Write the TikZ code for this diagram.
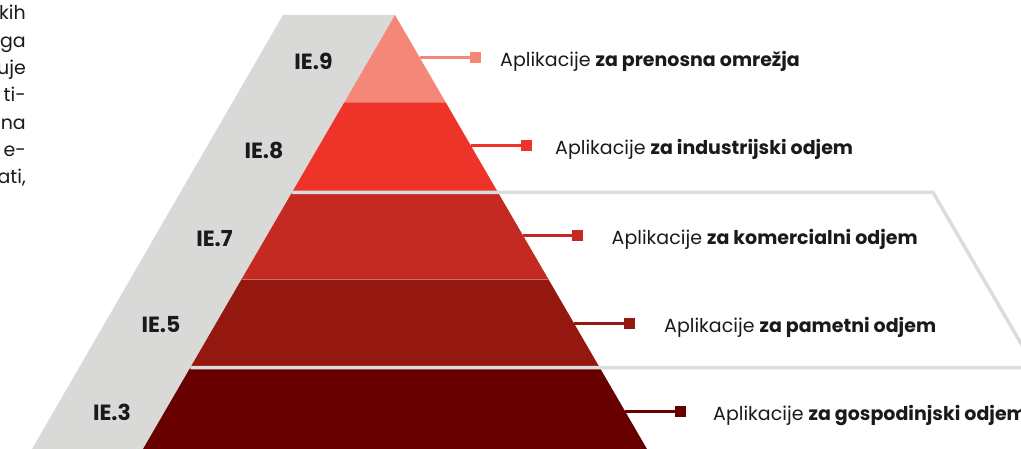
\documentclass[tikz,border=0pt]{standalone}
\usepackage{fontspec}
\setmainfont{Poppins}
\definecolor{c9}{HTML}{F48778}
\definecolor{c8}{HTML}{EE3329}
\definecolor{c7}{HTML}{C42A22}
\definecolor{c5}{HTML}{951810}
\definecolor{c3}{HTML}{690000}
\definecolor{bandgray}{HTML}{D9D9D7}
\definecolor{linegray}{HTML}{DCDCDC}
\definecolor{ink}{HTML}{1A1A1A}
\tikzset{
  conn/.style={line width=3pt},
  sq/.style={minimum size=11pt, inner sep=0pt, outer sep=0pt},
  lab/.style={font=\fontsize{19}{22}\selectfont, anchor=base west, inner sep=0pt, text=ink},
  ie/.style={font=\bfseries\fontsize{22}{24}\selectfont, inner sep=0pt, text=ink},
  leftt/.style={font=\fontsize{19}{22}\selectfont, anchor=base east, inner sep=0pt, text=ink},
  outl/.style={draw=linegray, line width=3.5pt}
}
\begin{document}
\begin{tikzpicture}[x=1pt,y=-1pt]
\useasboundingbox (0,0) rectangle (1021,449);
% left paragraph fragments
\node[leftt] (p1) at (26,20) {kih};
\node[leftt] (p2) at (26,47.3) {ga};
\node[leftt] (p3) at (26,74.7) {uje};
\node[leftt] (p4) at (26,102) {ti-};
\node[leftt] (p5) at (26,129.3) {na};
\node[leftt] (p6) at (26,156.7) {e-};
\node[leftt] (p7) at (26,184) {ati,};
% gray band
\fill[bandgray] (283,15) -- (395,15) -- (143,449) -- (32,449) -- cycle;
% pyramid bands
\fill[c9] (395,15) -- (445.8,102.5) -- (344.2,102.5) -- cycle;
\fill[c8] (344.2,102.5) -- (445.8,102.5) -- (498.06,192.5) -- (291.94,192.5) -- cycle;
\fill[c7] (291.94,192.5) -- (498.06,192.5) -- (548.3,279) -- (241.7,279) -- cycle;
\fill[c5] (241.7,279) -- (548.3,279) -- (599.66,367.5) -- (190.34,367.5) -- cycle;
\fill[c3] (190.34,367.5) -- (599.66,367.5) -- (647,449) -- (143,449) -- cycle;
\draw[line width=0.7pt, draw=c7!70!white] (241.7,279) -- (548.3,279);
% gray outline
\draw[outl] (291.94,192.5) -- (933,192.5) -- (1035,367.5) -- (190.34,367.5);
% IE labels
\node[ie] (ie9) at (313.5,61) {IE.9};
\node[ie] (ie8) at (264,150) {IE.8};
\node[ie] (ie7) at (214.5,238.5) {IE.7};
\node[ie] (ie5) at (161,325) {IE.5};
\node[ie] (ie3) at (112,412) {IE.3};
% connectors
\coordinate (e9) at (420,58);
\node[sq, fill=c9] (s9) at (475.5,58) {};
\draw[conn, c9] (e9) -- (s9);
\node[lab] (t9) at (500,67) {Aplikacije \textbf{za prenosna omrežja}};
\coordinate (e8) at (471.1,146);
\node[sq, fill=c8] (s8) at (526.5,146) {};
\draw[conn, c8] (e8) -- (s8);
\node[lab] (t8) at (555,155) {Aplikacije \textbf{za industrijski odjem}};
\coordinate (e7) at (522.9,235.3);
\node[sq, fill=c7] (s7) at (577.5,235.3) {};
\draw[conn, c7] (e7) -- (s7);
\node[lab] (t7) at (611.5,244.3) {Aplikacije \textbf{za komercialni odjem}};
\coordinate (e5) at (574.2,323.7);
\node[sq, fill=c5] (s5) at (629.3,323.7) {};
\draw[conn, c5] (e5) -- (s5);
\node[lab] (t5) at (664,332.7) {Aplikacije \textbf{za pametni odjem}};
\coordinate (e3) at (625.1,411.3);
\node[sq, fill=c3] (s3) at (680.5,411.3) {};
\draw[conn, c3] (e3) -- (s3);
\node[lab] (t3) at (713,420.5) {Aplikacije \textbf{za gospodinjski odjem}};
\end{tikzpicture}
\end{document}
